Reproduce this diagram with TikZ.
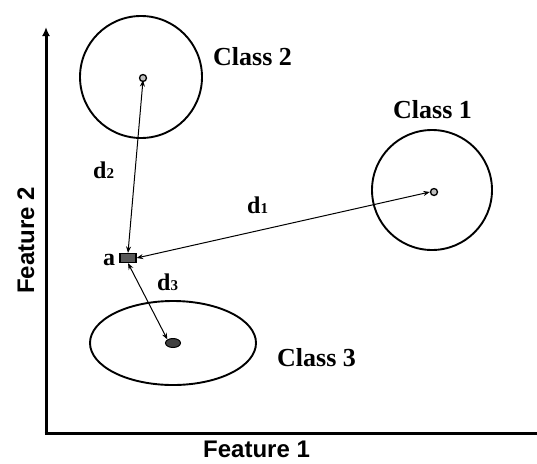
\documentclass[tikz,border=0pt]{standalone}
\usepackage{fontspec}
\setmainfont{Liberation Serif}
\newfontfamily\arialfont{Liberation Sans}
\usetikzlibrary{arrows.meta,shapes.geometric}
\tikzset{
  axis/.style={line width=3pt},
  classring/.style={line width=1.9pt},
  dist/.style={line width=1pt,{Stealth[length=6.5pt,width=5pt]}-{Stealth[length=6.5pt,width=5pt]}},
  centerdot/.style={circle,draw=black,fill=gray!50,line width=1.3pt,inner sep=0pt,minimum size=7pt},
  classlbl/.style={font=\fontsize{26}{30}\selectfont\bfseries,inner sep=0pt,anchor=base west},
  dlbl/.style={font=\fontsize{24}{28}\selectfont\bfseries,inner sep=0pt,anchor=base west},
  featlbl/.style={font=\arialfont\fontsize{24}{28}\selectfont\bfseries,inner sep=0pt,anchor=base west}
}
\newcommand{\dsub}[2]{#1{\fontsize{15}{16}\selectfont #2}}
\begin{document}
\begin{tikzpicture}[x=1pt,y=-1pt]
\useasboundingbox (0,0) rectangle (537,463);
% axes
\coordinate (o) at (46,433);
\coordinate (ytop) at (46,27);
\coordinate (xend) at (537,433);
\draw[axis,-{Latex[length=9pt,width=8pt]}] ([yshift=-1.5pt]o) -- (ytop);
\draw[axis] ([xshift=-1.5pt]o) -- (xend);
\node[featlbl] (f1) at (203,457) {Feature 1};
\node[featlbl,rotate=90] (f2) at (34,294) {Feature 2};
% class regions
\draw[classring] (141,77) circle (61);
\draw[classring] (432,190) circle (60);
\draw[classring] (173,343) ellipse (83 and 42);
% centres
\node[centerdot] (c2) at (143,78) {};
\node[centerdot] (c1) at (434,192) {};
\node[ellipse,draw=black,fill=black!75,line width=1pt,inner sep=0pt,minimum width=15pt,minimum height=9pt] (c3) at (173,343) {};
% point a
\node[rectangle,draw=black,fill=black!65,line width=1.2pt,inner sep=0pt,minimum width=16pt,minimum height=9pt] (a) at (128,258) {};
% distances
\draw[dist] (a.north) -- ([yshift=2pt]c2.south);
\draw[dist] (a.east) -- (c1.west);
\draw[dist] (a.south) -- (c3.north west);
% labels
\node[classlbl] (l2) at (213,65) {Class 2};
\node[classlbl] (l1) at (393,118) {Class 1};
\node[classlbl] (l3) at (277,366) {Class 3};
\node[dlbl] (d2) at (93,178) {\dsub{d}{2}};
\node[dlbl] (d1) at (247,213) {\dsub{d}{1}};
\node[dlbl] (d3) at (157,290) {\dsub{d}{3}};
\node[dlbl] (la) at (103,265) {a};
\end{tikzpicture}
\end{document}
